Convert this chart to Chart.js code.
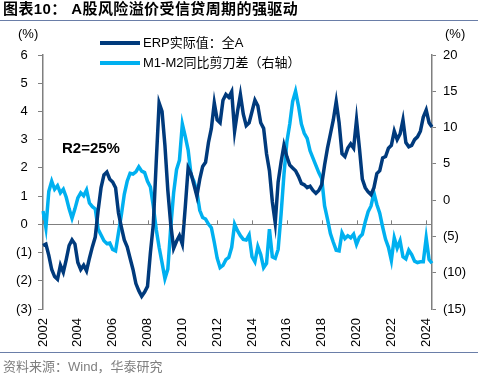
<!DOCTYPE html>
<html>
<head>
<meta charset="utf-8">
<script src="https://cdn.jsdelivr.net/npm/chart.js@4"></script>
<style>
  body { margin: 0; background: #fff; }
  #wrap { position: relative; width: 478px; height: 374px; overflow: hidden;
          font-family: "Liberation Sans", Arial, "Noto Sans CJK SC", sans-serif; }
  #chart { position: absolute; left: 0; top: 0; }
  .abs { position: absolute; white-space: nowrap; }
  #title { left: 3px; top: 0px; font-size: 15px; font-weight: bold; color: #000; line-height: 18px; letter-spacing: 0.4px; }
  .rule { position: absolute; left: 0; width: 478px; height: 1px; background: #6a7ea8; }
  #source { left: 3px; top: 359px; font-size: 13px; color: #7f7f7f; line-height: 16px; }
  .unit { font-size: 13px; color: #000; top: 26px; line-height: 16px; }
  .leg { font-size: 13px; color: #000; line-height: 16px; }
  .swatch { position: absolute; width: 40px; height: 4px; }
  #r2 { left: 62px; top: 139px; font-size: 15px; font-weight: bold; line-height: 18px; }
</style>
</head>
<body>
<div id="wrap">
  <canvas id="chart" width="478" height="374"></canvas>
  <div id="title" class="abs">图表10：&nbsp;A股风险溢价受信贷周期的强驱动</div>
  <div class="rule" style="top:20px"></div>
  <div class="abs unit" style="left:18px">(%)</div>
  <div class="abs unit" style="left:445px">(%)</div>
  <div class="swatch" style="left:100px; top:41px; background:#003a7c"></div>
  <div class="abs leg" style="left:143px; top:35px">ERP实际值：全A</div>
  <div class="swatch" style="left:100px; top:61px; background:#00b0f0"></div>
  <div class="abs leg" style="left:143px; top:55px">M1-M2同比剪刀差（右轴）</div>
  <div id="r2" class="abs">R2=25%</div>
  <div class="rule" style="top:352px"></div>
  <div id="source" class="abs">资料来源：Wind，华泰研究</div>
</div>
<script>
// bi-monthly observations, 2002-01 .. 2024-05
const months = ['01', '03', '05', '07', '09', '11'];
const labels = [];
for (let y = 2002; y <= 2024; y++) {
  for (const m of months) {
    if (y === 2024 && m > '05') break;
    labels.push(y + '-' + m);
  }
}

// ERP, left axis (%)
const erp = [
  -0.75, -0.7, -1.1, -1.6, -1.85, -1.95,
  -1.45, -1.7, -1.25, -0.75, -0.55, -0.7,
  -1.35, -1.6, -1.45, -1.65, -1.2, -0.8,
  -0.45, 0.5, 1.3, 1.75, 1.85, 1.6,
  1.5, 1.3, 0.4, -0.1, -0.55, -0.8,
  -1.2, -1.6, -2.1, -2.35, -2.55, -2.4,
  -2.2, -1.0, 0.0, 2.2, 4.3, 4.0,
  2.8, 1.2, 0.0, -0.85, -0.6, -0.4,
  -0.7, 0.6, 2.0, 1.8, 1.4, 1.0,
  1.6, 2.05, 2.2, 2.9, 3.4, 4.3,
  3.7, 3.6, 4.4, 4.6, 4.5, 4.7,
  3.3, 4.0, 4.6, 3.9, 3.5, 3.6,
  4.0, 4.4, 4.2, 3.6, 3.4, 2.5,
  1.9, 0.8, 0.05, 1.5, 2.2, 2.8,
  2.4, 2.1, 2.0, 1.9, 1.7, 1.45,
  1.4, 1.3, 1.35, 1.2, 1.1, 1.2,
  1.4, 2.1, 2.7, 3.2, 3.7, 4.35,
  3.6, 2.5, 2.4, 2.7, 2.85, 2.7,
  3.7, 2.7, 1.6, 1.3, 1.15, 1.05,
  1.3, 1.8, 1.9, 2.35, 2.4, 2.7,
  2.8, 3.3, 3.0, 3.2, 3.7, 2.9,
  2.75, 2.8, 3.0, 3.1, 3.3, 3.8,
  4.05, 3.6, 3.45
];

// M1-M2 yoy gap, right axis (%)
const m1m2 = [
  -1.5, -3.8, 1.2, 2.6, 1.5, 2.0,
  1.0, 1.5, 0.4, -1.2, -2.5, -1.2,
  0.3, 1.0, 0.6, 1.4, -0.4, -0.9,
  -1.2, -4.0, -4.8, -5.6, -6.0, -5.9,
  -6.8, -7.0, -4.5, -2.0, 0.8, 2.6,
  3.7, 3.6, 3.9, 4.6, 4.0, 3.8,
  2.6, 1.8, -0.8, -4.0, -6.5, -8.6,
  -10.8, -9.5, -3.8, 1.0, 4.2, 5.5,
  10.5, 8.8, 6.9, 3.5, 2.6, 1.2,
  -1.4, -2.4, -2.6, -3.3, -3.8, -5.8,
  -8.0, -9.3, -9.0, -8.2, -7.9, -6.5,
  -3.3, -4.2, -4.9, -5.4, -5.5, -4.8,
  -7.8, -8.5, -6.4, -7.5, -9.3, -8.7,
  -4.0, -7.8, -8.0, -6.8, -2.0, 3.5,
  8.0, 10.5, 13.6, 15.0, 13.0, 10.5,
  9.2, 8.5, 6.8, 5.8, 4.8, 3.8,
  3.0, -0.8, -2.6, -4.6, -5.8, -6.9,
  -7.0, -4.5, -5.3, -4.9, -5.2, -4.7,
  -6.1, -5.1, -4.7, -3.0, -1.6, -0.8,
  1.0, -0.6, -1.8, -3.7, -5.4, -6.5,
  -8.3, -5.2, -6.6, -5.6, -7.8, -8.1,
  -6.9, -7.5, -8.4, -8.6, -8.5, -8.5,
  -5.2, -8.2, -8.7
];

const leftTicks = [-3, -2, -1, 0, 1, 2, 3, 4, 5, 6];
const rightTicks = [-15, -10, -5, 0, 5, 10, 15, 20];

const axisGrey = '#7f7f7f';
const font = { family: '"Liberation Sans", Arial, sans-serif', size: 13 };

function yearLabel(lbl) {
  const [y, m] = lbl.split('-');
  return (m === '01' && +y % 2 === 0) ? y : null;
}
function paren(v) {
  return v < 0 ? '(' + Math.abs(v) + ')' : String(v);
}

// small up-pointing ticks on the zero line at each labelled year
const zeroTicks = {
  id: 'zeroTicks',
  afterDatasetsDraw(chart) {
    const { ctx } = chart;
    const xs = chart.scales.x, yl = chart.scales.y;
    const y0 = yl.getPixelForValue(0);
    ctx.save();
    ctx.strokeStyle = axisGrey;
    ctx.lineWidth = 1;
    labels.forEach((l, i) => {
      if (!yearLabel(l)) return;
      const x = Math.round(xs.getPixelForValue(i)) + 0.5;
      ctx.beginPath();
      ctx.moveTo(x, y0);
      ctx.lineTo(x, y0 - 4);
      ctx.stroke();
    });
    ctx.restore();
  }
};

new Chart(document.getElementById('chart'), {
  type: 'line',
  data: {
    labels: labels,
    datasets: [
      { label: 'ERP实际值：全A', data: erp, yAxisID: 'y',
        borderColor: '#003a7c', borderWidth: 3.5, pointRadius: 0, tension: 0 },
      { label: 'M1-M2同比剪刀差（右轴）', data: m1m2, yAxisID: 'y1',
        borderColor: '#00b0f0', borderWidth: 3.5, pointRadius: 0, tension: 0 }
    ]
  },
  options: {
    responsive: false,
    animation: false,
    layout: { padding: { top: 55, bottom: 0, left: 0, right: 0 } },
    plugins: { legend: { display: false }, tooltip: { enabled: false } },
    scales: {
      x: {
        type: 'category',
        offset: false,
        grid: { display: false, drawTicks: false },
        border: { display: false },
        ticks: {
          autoSkip: false, minRotation: 90, maxRotation: 90, padding: 9,
          color: '#000', font: font,
          callback: function (v) { return yearLabel(this.getLabelForValue(v)); }
        },
        afterFit: s => { s.height = 65; }
      },
      y: {
        position: 'left',
        min: -3, max: 6,
        afterBuildTicks: s => { s.ticks = leftTicks.map(v => ({ value: v })); },
        grid: {
          color: c => (c.tick && c.tick.value === 0) ? axisGrey : 'rgba(0,0,0,0)',
          tickColor: axisGrey, tickLength: 5, lineWidth: 1
        },
        border: { display: true, color: axisGrey, width: 1.5 },
        ticks: { color: '#000', font: font, padding: 6, crossAlign: 'center', callback: paren },
        afterFit: s => { s.width = 43; }
      },
      y1: {
        position: 'right',
        min: -15, max: 20,
        afterBuildTicks: s => { s.ticks = rightTicks.map(v => ({ value: v })); },
        grid: { drawOnChartArea: false, tickColor: axisGrey, tickLength: 4 },
        border: { display: true, color: axisGrey, width: 1.5 },
        ticks: { color: '#000', font: font, padding: 7, callback: paren },
        afterFit: s => { s.width = 46; }
      }
    }
  },
  plugins: [zeroTicks]
});
</script>
</body>
</html>
